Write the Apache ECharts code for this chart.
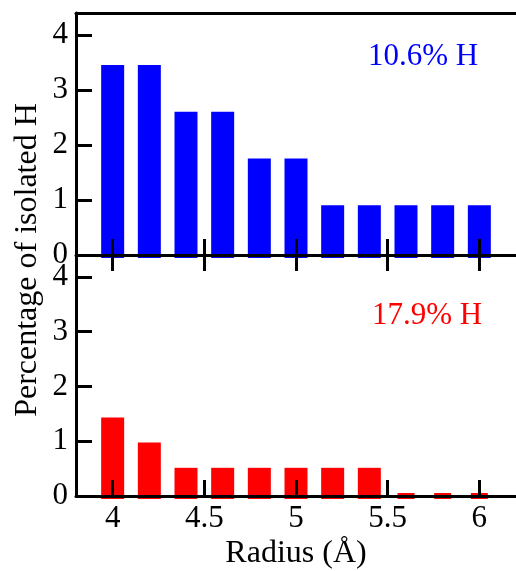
<!DOCTYPE html>
<html>
<head>
<meta charset="utf-8">
<script src="https://cdn.jsdelivr.net/npm/echarts@6/dist/echarts.min.js"></script>
<style>
  html, body { margin: 0; padding: 0; background: #fff; }
  #chart { width: 516px; height: 571px; }
</style>
</head>
<body>
<div id="chart"></div>
<script>
// bar positions (Å) and percentages for the two samples
const radius = [4.0, 4.2, 4.4, 4.6, 4.8, 5.0, 5.2, 5.4, 5.6, 5.8, 6.0]
const blueValues = [3.4, 3.4, 2.55, 2.55, 1.7, 1.7, 0.85, 0.85, 0.85, 0.85, 0.85]
const redValues = [1.38, 0.92, 0.46, 0.46, 0.46, 0.46, 0.46, 0.46, 0, 0, 0]
const xTickValues = [4, 4.5, 5, 5.5, 6]
const blueLabel = '10.6% H'
const redLabel = '17.9% H'

const font = "'Liberation Serif', 'DejaVu Serif', serif"
const black = '#000'
const fs = 31

const lineStyle = { color: black, width: 3 }

function xAxisBase(grid) {
  return {
    type: 'value',
    gridIndex: grid,
    min: 3.8,
    max: 6.2,
    splitLine: { show: false },
    z: 5
  }
}

function yAxisBase(grid) {
  return {
    type: 'value',
    gridIndex: grid,
    min: 0,
    max: 4.4,
    interval: 1,
    axisLine: { show: true, onZero: false, lineStyle },
    axisTick: { show: true, inside: true, length: 16, lineStyle },
    axisLabel: { color: black, fontSize: fs, fontFamily: font, margin: 8, showMaxLabel: false },
    splitLine: { show: false },
    z: 5
  }
}

// bars with a thick outline: the drawn box reaches 3px past the value on every side
// (a zero bar collapses to a flat strip, without the side overhang)
function barSeries(values, color, xIdx, yIdx) {
  const halfW = 11.5
  const pad = 3
  return {
    type: 'custom',
    xAxisIndex: xIdx,
    yAxisIndex: yIdx,
    clip: false,
    encode: { x: 0, y: 1 },
    renderItem: (params, api) => {
      const top = api.coord([api.value(0), api.value(1)])
      const base = api.coord([api.value(0), 0])
      const hw = api.value(1) === 0 ? halfW - pad : halfW
      return {
        type: 'rect',
        shape: {
          x: top[0] - hw,
          y: top[1] - pad,
          width: hw * 2,
          height: base[1] - top[1] + pad * 2
        },
        style: { fill: color }
      }
    },
    data: radius.map((r, i) => [r, values[i]])
  }
}

const chart = echarts.init(document.getElementById('chart'), null, { renderer: 'canvas' })

chart.setOption({
  animation: false,
  backgroundColor: '#fff',
  grid: [
    { left: 76, right: -4, top: 13, height: 242 },
    { left: 76, right: -4, top: 255, height: 242 }
  ],
  xAxis: [
    Object.assign(xAxisBase(0), {
      position: 'bottom',
      axisLine: { show: true, onZero: false, lineStyle },
      axisTick: { show: true, inside: true, length: 16, lineStyle, customValues: xTickValues },
      axisLabel: { show: false }
    }),
    Object.assign(xAxisBase(0), {
      position: 'top',
      axisLine: { show: true, onZero: false, lineStyle },
      axisTick: { show: false },
      axisLabel: { show: false }
    }),
    Object.assign(xAxisBase(1), {
      position: 'bottom',
      name: 'Radius (Å)',
      nameLocation: 'middle',
      nameGap: 42,
      nameTextStyle: { color: black, fontSize: 32, fontFamily: font },
      axisLine: { show: true, onZero: false, lineStyle },
      axisTick: { show: true, inside: true, length: 16, lineStyle, customValues: xTickValues },
      axisLabel: { color: black, fontSize: fs, fontFamily: font, margin: 7, customValues: xTickValues }
    }),
    Object.assign(xAxisBase(1), {
      position: 'top',
      axisLine: { show: false, onZero: false },
      axisTick: { show: true, inside: true, length: 16, lineStyle, customValues: xTickValues },
      axisLabel: { show: false }
    })
  ],
  yAxis: [yAxisBase(0), yAxisBase(1)],
  series: [
    barSeries(blueValues, '#0000ff', 0, 0),
    barSeries(redValues, '#ff0000', 2, 1)
  ],
  graphic: [
    {
      type: 'text',
      x: 28,
      y: 260,
      rotation: Math.PI / 2,
      style: {
        text: 'Percentage of isolated H',
        fill: black,
        fontSize: 32,
        fontFamily: font,
        align: 'center',
        verticalAlign: 'middle',
        textAlign: 'center',
        textVerticalAlign: 'middle'
      }
    },
    {
      type: 'text',
      x: 423,
      y: 57,
      style: {
        text: blueLabel,
        fill: '#0000ff',
        fontSize: fs,
        fontFamily: font,
        align: 'center',
        verticalAlign: 'middle',
        textAlign: 'center',
        textVerticalAlign: 'middle'
      }
    },
    {
      type: 'text',
      x: 427,
      y: 316,
      style: {
        text: redLabel,
        fill: '#ff0000',
        fontSize: fs,
        fontFamily: font,
        align: 'center',
        verticalAlign: 'middle',
        textAlign: 'center',
        textVerticalAlign: 'middle'
      }
    }
  ]
})
</script>
</body>
</html>
